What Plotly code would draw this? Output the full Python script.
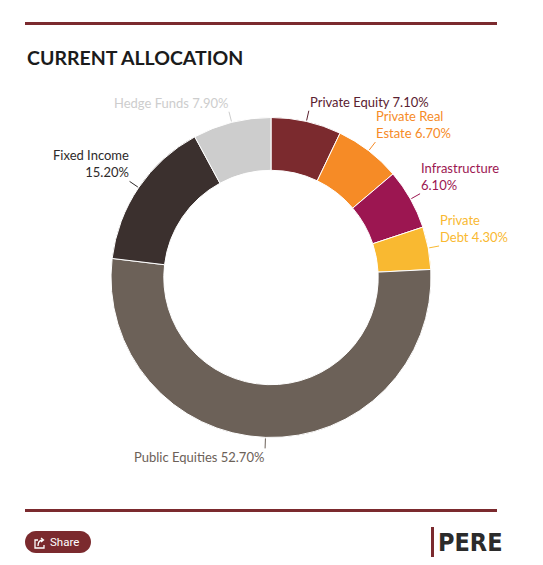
import math
import plotly.graph_objects as go

# the page puts the figure 8px in from the window corner
W, H = 543, 565
PAD = 8

labels = ["Private Equity", "Private Real Estate", "Infrastructure", "Private Debt",
          "Public Equities", "Fixed Income", "Hedge Funds"]
values = [7.1, 6.7, 6.1, 4.3, 52.7, 15.2, 7.9]
slice_colors = ["#7b2a2e", "#f68b26", "#9c1651", "#f9b931", "#6c6158", "#3b302e", "#cdcdcd"]
label_colors = ["#5a2130", "#f68b26", "#9c1651", "#f9b931", "#6c6158", "#2e2a2a", "#cdcdcd"]
# where the outside labels wrap onto a second line
label_wrap = {"Private Real Estate": "Private Real<br>Estate",
              "Infrastructure": "Infrastructure<br>",
              "Private Debt": "Private<br>Debt",
              "Fixed Income": "Fixed Income<br>"}

maroon = "#7b2a2e"
cx, cy, R = 271, 277.5, 160
fw, fh = W - 2 * PAD, H - 2 * PAD


def px_x(x):
    return (x - PAD) / fw


def px_y(y):
    return 1 - (y - PAD) / fh


def pt(x, y):
    return "%.5f,%.5f" % (px_x(x), px_y(y))


fig = go.Figure(go.Pie(
    labels=labels,
    values=values,
    sort=False,
    direction="clockwise",
    rotation=0,
    hole=0.67,
    marker=dict(colors=slice_colors, line=dict(color="white", width=1)),
    textinfo="none",
    hovertemplate="%{label}: %{value:.2f}%<extra></extra>",
    domain=dict(x=[px_x(cx - R), px_x(cx + R)], y=[px_y(cy + R), px_y(cy - R)]),
))

annotations = []
total = sum(values)
start = 0
for name, v, col in zip(labels, values, label_colors):
    mid = (start + v / 2) / total * 2 * math.pi
    start += v
    sx, sy = math.sin(mid), -math.cos(mid)
    hx, hy = cx + (R + 1) * sx, cy + (R + 1) * sy
    base = label_wrap.get(name, name)
    sep = "" if base.endswith("<br>") else " "
    txt = "%s%s%.2f%%" % (base, sep, v)
    annotations.append(dict(
        x=px_x(hx), y=px_y(hy), xref="paper", yref="paper",
        ax=10 * sx, ay=10 * sy,
        xanchor="left" if sx > 0 else "right",
        yanchor="bottom" if sy < 0 else "top",
        align="left" if sx > 0 else "right",
        text=txt, showarrow=True, arrowhead=0, arrowwidth=1,
        arrowcolor=col, borderpad=0,
        font=dict(family="Lato", size=13, color=col),
    ))

annotations.append(dict(
    x=px_x(25), y=px_y(57), xref="paper", yref="paper",
    xanchor="left", yanchor="middle", showarrow=False,
    text="<b>CURRENT ALLOCATION</b>",
    font=dict(family="Lato", size=19.5, color="#1b1b1b"),
))
annotations.append(dict(
    x=px_x(48), y=px_y(542), xref="paper", yref="paper",
    xanchor="left", yanchor="middle", showarrow=False,
    text="Share", font=dict(family="Roboto", size=11.5, color="white"),
))
annotations.append(dict(
    x=px_x(436), y=px_y(542), xref="paper", yref="paper",
    xanchor="left", yanchor="middle", showarrow=False,
    text="<b>PERE</b>",
    font=dict(family="Liberation Sans Narrow, DejaVu Sans Condensed", size=25, color="#2b2b2b"),
))

# pill shaped share button
k = 11 * 0.5523
pill = ("M " + pt(36, 531) + " L " + pt(80, 531)
        + " C " + pt(80 + k, 531) + " " + pt(91, 542 - k) + " " + pt(91, 542)
        + " C " + pt(91, 542 + k) + " " + pt(80 + k, 553) + " " + pt(80, 553)
        + " L " + pt(36, 553)
        + " C " + pt(36 - k, 553) + " " + pt(25, 542 + k) + " " + pt(25, 542)
        + " C " + pt(25, 542 - k) + " " + pt(36 - k, 531) + " " + pt(36, 531) + " Z")
icon_box = "M " + pt(38, 540) + " L " + pt(35, 540) + " L " + pt(35, 548) + " L " + pt(44, 548) + " L " + pt(44, 545)
icon_arrow = "M " + pt(38, 546) + " Q " + pt(38, 540) + " " + pt(43, 540) + " M " + pt(41, 538) + " L " + pt(43.5, 540) + " L " + pt(41, 542)

shapes = [
    dict(type="line", xref="paper", yref="paper", x0=px_x(25), x1=px_x(497), y0=px_y(23.5), y1=px_y(23.5),
         line=dict(color=maroon, width=3)),
    dict(type="line", xref="paper", yref="paper", x0=px_x(25), x1=px_x(497), y0=px_y(510.5), y1=px_y(510.5),
         line=dict(color=maroon, width=3)),
    dict(type="path", xref="paper", yref="paper", path=pill, fillcolor=maroon, line=dict(width=0)),
    dict(type="path", xref="paper", yref="paper", path=icon_box, line=dict(color="white", width=1.3)),
    dict(type="path", xref="paper", yref="paper", path=icon_arrow, line=dict(color="white", width=1.3)),
    dict(type="rect", xref="paper", yref="paper", x0=px_x(431), x1=px_x(434), y0=px_y(557), y1=px_y(527),
         fillcolor=maroon, line=dict(width=0)),
]

fig.update_layout(
    width=fw, height=fh,
    margin=dict(l=0, r=0, t=0, b=0),
    paper_bgcolor="white",
    plot_bgcolor="white",
    showlegend=False,
    annotations=annotations,
    shapes=shapes,
)

fig.write_html("out.html")
